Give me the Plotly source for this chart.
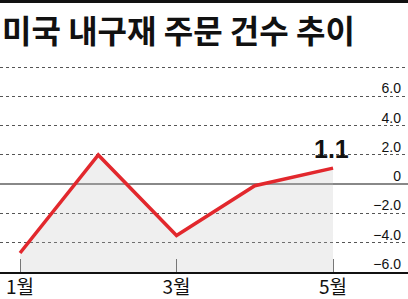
import plotly.graph_objects as go

months = [1, 2, 3, 4, 5]
values = [-4.7, 2.0, -3.5, -0.1, 1.1]
x_tick_vals = [1, 3, 5]
x_tick_text = ["1월", "3월", "5월"]
y_tick_vals = [-6, -4, -2, 0, 2, 4, 6, 8]
y_tick_text = ["−6.0", "−4.0", "−2.0", "0", "2.0", "4.0", "6.0", ""]
title_text = "미국 내구재 주문 건수 추이"

y_min, y_max = -6, 8.15
x_min, x_max = 0.744, 5.958

fig = go.Figure()
# baseline for the gray fill
fig.add_trace(go.Scatter(x=months, y=[y_min] * len(months), mode="lines",
                         line=dict(width=0, color="rgba(0,0,0,0)"),
                         hoverinfo="skip", showlegend=False))
fig.add_trace(go.Scatter(x=months, y=values, mode="lines",
                         line=dict(color="#e2282d", width=3.5),
                         fill="tonexty", fillcolor="rgba(190,190,190,0.25)",
                         showlegend=False))

fig.add_annotation(x=months[-1], y=values[-1], text=f"<b>{values[-1]}</b>",
                   showarrow=False, yanchor="middle", yshift=19, xshift=-2,
                   font=dict(family="Liberation Sans Narrow, Arial Narrow, Liberation Sans",
                             size=25, color="#111"))

# title
fig.add_annotation(xref="paper", yref="paper", x=0, xanchor="left",
                   y=(272 - 29) / 207, yanchor="middle", showarrow=False,
                   text=f"<b>{title_text}</b>",
                   font=dict(family="Noto Sans CJK KR", size=32, color="#111", weight=900))

# top black rule
fig.add_shape(type="line", xref="paper", yref="paper", x0=0, x1=1,
              y0=(272 - 1.5) / 207, y1=(272 - 1.5) / 207, line=dict(color="#111", width=3))

fig.update_layout(
    width=408, height=299,
    margin=dict(l=0, r=0, t=65, b=27),
    paper_bgcolor="white", plot_bgcolor="white",
    xaxis=dict(range=[x_min, x_max], tickvals=x_tick_vals, ticktext=x_tick_text,
               showgrid=False, zeroline=False, automargin=False,
               showline=True, linecolor="#111", linewidth=2,
               ticks="inside", ticklen=13, tickcolor="#777", tickwidth=1,
               ticklabelstandoff=-3,
               tickfont=dict(family="Noto Sans CJK KR", size=19, color="#111")),
    yaxis=dict(range=[y_min, y_max], side="right", tickvals=y_tick_vals, ticktext=y_tick_text,
               ticklabelposition="inside", ticklabelshift=-8, ticklabelstandoff=4,
               automargin=False,
               showgrid=True, gridcolor="#555", gridwidth=1, griddash="dot",
               zeroline=True, zerolinecolor="#888", zerolinewidth=1.5,
               showline=False, ticks="",
               tickfont=dict(family="Liberation Sans Narrow, Arial Narrow, Liberation Sans",
                             size=14, color="#111")),
)

fig.write_html("out.html")
